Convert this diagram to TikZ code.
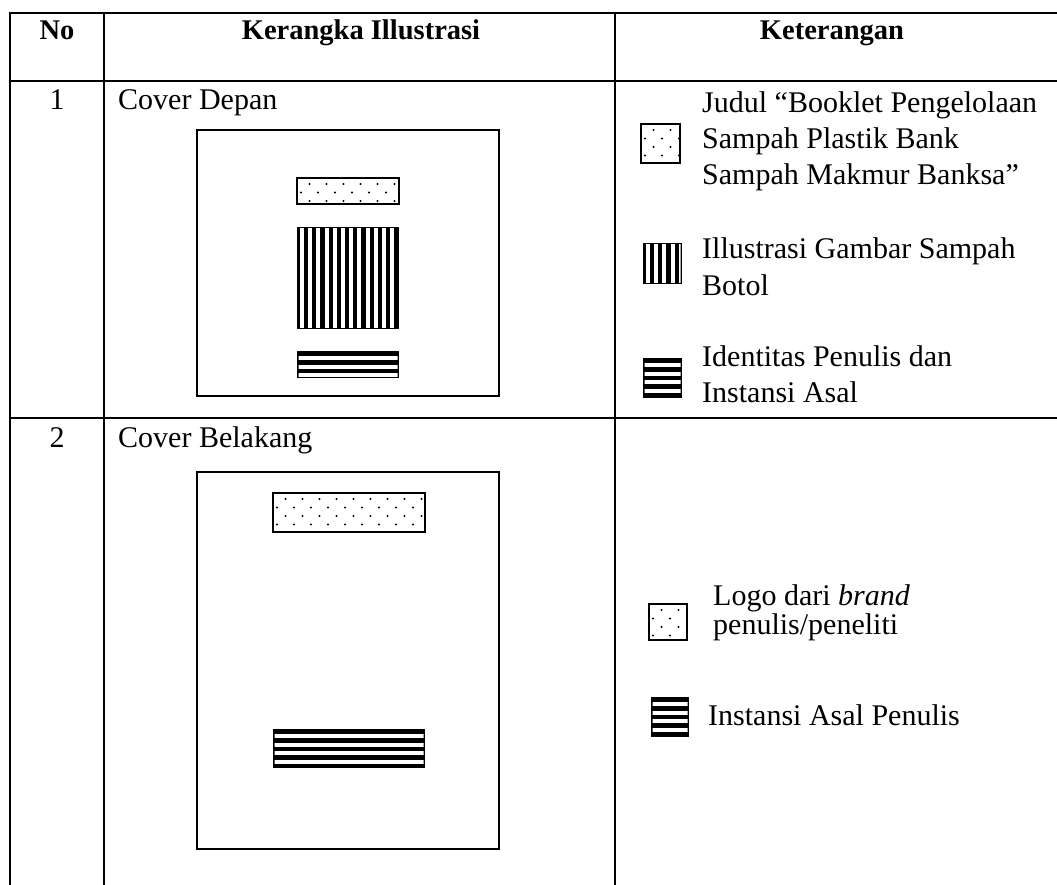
\documentclass[tikz,border=0pt]{standalone}
\usepackage{fontspec}
\setmainfont{Liberation Serif}
\newcommand{\dotbox}[4]{%
  \begin{scope}
    \clip (#1,#2) rectangle (#3,#4);
    \foreach \r in {0,...,6}
      \foreach \c in {0,...,9}
        \fill ({#1+4+8.5*mod(\r+1,2)+17*\c},{#2+6+8.5*\r}) circle (1.1pt);
  \end{scope}
  \draw[box] (#1,#2) rectangle (#3,#4);}
\newcommand{\vstripes}[4]{%
  \fill (#1,#2) rectangle (#3,#4);
  \begin{scope}
    \clip ({#1+1.5},{#2+1.5}) rectangle ({#3-1.5},{#4-1.5});
    \foreach \k in {0,...,12}
      \fill[white] ({#1+3+8.2*\k},#2) rectangle ({#1+7+8.2*\k},#4);
  \end{scope}}
\newcommand{\hstripes}[4]{%
  \fill (#1,#2) rectangle (#3,#4);
  \begin{scope}
    \clip ({#1+1.5},{#2+1.5}) rectangle ({#3-1.5},{#4-1.5});
    \foreach \k in {0,...,5}
      \fill[white] (#1,{#2+5+8.5*\k}) rectangle (#3,{#2+9+8.5*\k});
  \end{scope}}
\begin{document}
\begin{tikzpicture}[x=1pt, y=-1pt, line cap=rect, line join=miter]
  \tikzset{grid/.style={line width=1.7pt},
    box/.style={line width=1.3pt},
    head/.style={font=\fontsize{28.5}{36}\bfseries, inner sep=0, anchor=base},
    num/.style={font=\fontsize{30}{36}\selectfont, inner sep=0, anchor=base},
    cell/.style={font=\fontsize{30}{36}\selectfont, inner sep=0, anchor=base west},
    note/.style={font=\fontsize{30}{36}\selectfont, inner sep=0, anchor=base west, align=left},
    tight/.style={note, font=\fontsize{30}{27}\selectfont}}
  \useasboundingbox (0,0) rectangle (1057,885);
  % table
  \draw[grid] (10,13) -- (1070,13);
  \draw[grid] (10,81) -- (1070,81);
  \draw[grid] (10,418) -- (1070,418);
  \foreach \x in {10,104,615}
    \draw[grid] (\x,13) -- (\x,900);
  \node[head] (hno) at (57,40) {No};
  \node[head] (hframe) at (361,40) {Kerangka Illustrasi};
  \node[head] (hnote) at (832,40) {Keterangan};
  \node[num] (n1) at (57,110) {1};
  \node[num] (n2) at (57,447) {2};
  \node[cell] (c1) at (118,110) {Cover Depan};
  \node[cell] (c2) at (118,447) {Cover Belakang};
  % cover depan
  \draw[box] (197,130) rectangle (499,396);
  \dotbox{297}{178}{399}{204}
  \vstripes{297}{227}{399}{329}
  \hstripes{297}{351}{399}{378}
  % cover belakang
  \draw[box] (197,472) rectangle (499,849);
  \dotbox{273}{493}{425}{532}
  \hstripes{273}{729}{425}{768}
  % keterangan
  \dotbox{641}{124}{680}{163}
  \vstripes{643}{243}{682}{284}
  \hstripes{643}{358}{682}{398}
  \node[note] (k1) at (702,185) {Judul “Booklet Pengelolaan\\Sampah Plastik Bank\\Sampah Makmur Banksa”};
  \node[note] (k2) at (702,295) {Illustrasi Gambar Sampah\\Botol};
  \node[note] (k3) at (702,402) {Identitas Penulis dan\\Instansi Asal};
  \dotbox{649}{604}{687}{640}
  \hstripes{651}{697}{689}{737}
  \node[tight] (k4) at (713,634) {Logo dari \textit{brand}\\penulis/peneliti};
  \node[cell] (k5) at (708,725) {Instansi Asal Penulis};
\end{tikzpicture}
\end{document}
